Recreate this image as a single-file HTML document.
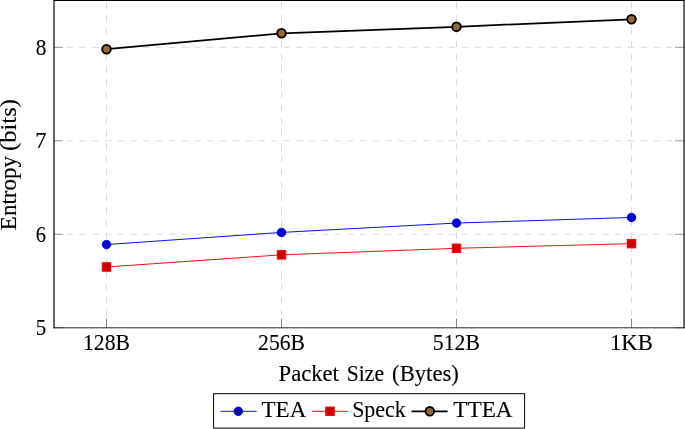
<!DOCTYPE html>
<html><head><meta charset="utf-8"><title>Entropy vs Packet Size</title>
<style>html,body{margin:0;padding:0;background:#fff;overflow:hidden}svg{display:block}text{font-family:"Liberation Serif",serif;fill:#000}</style>
</head><body>
<svg width="685" height="429" viewBox="0 0 685 429">
<defs><filter id="idf" x="0" y="0" width="685" height="429" filterUnits="userSpaceOnUse" color-interpolation-filters="sRGB"><feOffset dx="0" dy="0"/></filter></defs>
<rect x="0" y="0" width="685" height="429" fill="#ffffff"/>
<g stroke="#d6d6d6" stroke-width="0.85" fill="none">
<line x1="106.50" y1="315.8" x2="106.50" y2="0" stroke-dasharray="6.400 6.400"/>
<line x1="281.50" y1="315.8" x2="281.50" y2="0" stroke-dasharray="6.400 6.400"/>
<line x1="456.50" y1="315.8" x2="456.50" y2="0" stroke-dasharray="6.400 6.400"/>
<line x1="631.50" y1="315.8" x2="631.50" y2="0" stroke-dasharray="6.400 6.400"/>
<line x1="54.0" y1="234.28" x2="684.0" y2="234.28" stroke-dasharray="6.375 6.375"/>
<line x1="54.0" y1="140.81" x2="684.0" y2="140.81" stroke-dasharray="6.375 6.375"/>
<line x1="54.0" y1="47.34" x2="684.0" y2="47.34" stroke-dasharray="6.375 6.375"/>
</g>
<g stroke="#6a6a6a" stroke-width="0.85" fill="none">
<line x1="106.50" y1="327.7" x2="106.50" y2="318.70"/>
<line x1="281.50" y1="327.7" x2="281.50" y2="318.70"/>
<line x1="456.50" y1="327.7" x2="456.50" y2="318.70"/>
<line x1="631.50" y1="327.7" x2="631.50" y2="318.70"/>
<line x1="54.0" y1="327.75" x2="63.00" y2="327.75" stroke="#8c8c8c"/>
<line x1="684.0" y1="327.75" x2="675.00" y2="327.75" stroke="#8c8c8c"/>
<line x1="54.0" y1="234.28" x2="63.00" y2="234.28" stroke="#8c8c8c"/>
<line x1="684.0" y1="234.28" x2="675.00" y2="234.28" stroke="#8c8c8c"/>
<line x1="54.0" y1="140.81" x2="63.00" y2="140.81" stroke="#8c8c8c"/>
<line x1="684.0" y1="140.81" x2="675.00" y2="140.81" stroke="#8c8c8c"/>
<line x1="54.0" y1="47.34" x2="63.00" y2="47.34" stroke="#8c8c8c"/>
<line x1="684.0" y1="47.34" x2="675.00" y2="47.34" stroke="#8c8c8c"/>
</g>
<g stroke="#000" fill="none" stroke-linecap="square">
<line x1="54.0" y1="0.5" x2="54.0" y2="327.7" stroke-width="1.2"/>
<line x1="684.05" y1="0.5" x2="684.05" y2="327.7" stroke-width="1.2"/>
<line x1="54.0" y1="0.5" x2="684.2" y2="0.5" stroke-width="1.15"/>
<line x1="54.0" y1="327.8" x2="684.2" y2="327.8" stroke-width="0.95" stroke="#1a1a1a"/>
</g>
<polyline points="106.50,244.56 281.50,232.41 456.50,223.06 631.50,217.45" fill="none" stroke="#0000ff" stroke-width="0.95"/>
<circle cx="106.50" cy="244.56" r="4.26" fill="#0000cc" stroke="#0000ff" stroke-width="0.95"/>
<circle cx="281.50" cy="232.41" r="4.26" fill="#0000cc" stroke="#0000ff" stroke-width="0.95"/>
<circle cx="456.50" cy="223.06" r="4.26" fill="#0000cc" stroke="#0000ff" stroke-width="0.95"/>
<circle cx="631.50" cy="217.45" r="4.26" fill="#0000cc" stroke="#0000ff" stroke-width="0.95"/>
<polyline points="106.50,266.99 281.50,254.84 456.50,248.30 631.50,243.63" fill="none" stroke="#ff0000" stroke-width="0.95"/>
<rect x="102.24" y="262.73" width="8.52" height="8.52" fill="#cc0000" stroke="#ff0000" stroke-width="0.95"/>
<rect x="277.24" y="250.58" width="8.52" height="8.52" fill="#cc0000" stroke="#ff0000" stroke-width="0.95"/>
<rect x="452.24" y="244.04" width="8.52" height="8.52" fill="#cc0000" stroke="#ff0000" stroke-width="0.95"/>
<rect x="627.24" y="239.37" width="8.52" height="8.52" fill="#cc0000" stroke="#ff0000" stroke-width="0.95"/>
<polyline points="106.50,49.21 281.50,33.31 456.50,26.77 631.50,19.29" fill="none" stroke="#000" stroke-width="1.75"/>
<circle cx="106.50" cy="49.21" r="4.3" fill="#996633" stroke="#000" stroke-width="1.9"/>
<circle cx="281.50" cy="33.31" r="4.3" fill="#996633" stroke="#000" stroke-width="1.9"/>
<circle cx="456.50" cy="26.77" r="4.3" fill="#996633" stroke="#000" stroke-width="1.9"/>
<circle cx="631.50" cy="19.29" r="4.3" fill="#996633" stroke="#000" stroke-width="1.9"/>
<rect x="213.6" y="393.7" width="311.0" height="34.4" fill="#fff" stroke="#000" stroke-width="1.0"/>
<line x1="220.5" y1="411.3" x2="256.7" y2="411.3" stroke="#0000ff" stroke-width="0.95"/>
<circle cx="238.3" cy="411.3" r="4.26" fill="#0000cc" stroke="#0000ff" stroke-width="0.95"/>
<line x1="311.8" y1="411.3" x2="347.9" y2="411.3" stroke="#ff0000" stroke-width="0.95"/>
<rect x="325.74" y="407.04" width="8.52" height="8.52" fill="#cc0000" stroke="#ff0000" stroke-width="0.95"/>
<line x1="411.6" y1="411.3" x2="447.6" y2="411.3" stroke="#000" stroke-width="1.75"/>
<circle cx="429.8" cy="411.3" r="4.3" fill="#996633" stroke="#000" stroke-width="1.9"/>
<g filter="url(#idf)" stroke="#000" stroke-width="0.12">
<text transform="translate(83.01,350.00) scale(1.0089,1.0650)" font-size="21.5">128B</text>
<text transform="translate(258.12,350.00) scale(1.0085,1.0650)" font-size="21.5">256B</text>
<text transform="translate(432.78,350.00) scale(1.0116,1.0650)" font-size="21.5">512B</text>
<text transform="translate(610.02,350.00) scale(1.0569,1.0650)" font-size="21.5">1KB</text>
<text transform="translate(35.72,335.05) scale(0.9702,1.0650)" font-size="21.5">5</text>
<text transform="translate(35.86,241.58) scale(0.9546,1.0650)" font-size="21.5">6</text>
<text transform="translate(35.29,148.11) scale(1.0474,1.0650)" font-size="21.5">7</text>
<text transform="translate(35.84,54.64) scale(0.9887,1.0650)" font-size="21.5">8</text>
<text transform="translate(278.55,380.70) scale(1.0535,1.0650)" font-size="21.5">Packet</text>
<text transform="translate(346.74,380.70) scale(1.0085,1.0650)" font-size="21.5">Size</text>
<text transform="translate(392.09,380.70) scale(1.0559,1.0650)" font-size="21.5">(Bytes)</text>
<text transform="translate(15.90,230.16) rotate(-90) scale(1.0706,1.0650)" font-size="21.5">Entropy</text>
<text transform="translate(15.90,150.97) rotate(-90) scale(1.1426,1.0650)" font-size="21.5">(bits)</text>
<text transform="translate(261.54,416.50) scale(1.0729,1.0650)" font-size="21.5">TEA</text>
<text transform="translate(352.13,416.50) scale(1.0215,1.0650)" font-size="21.5">Speck</text>
<text transform="translate(453.24,416.50) scale(1.0822,1.0650)" font-size="21.5">TTEA</text>
</g>
</svg></body></html>
